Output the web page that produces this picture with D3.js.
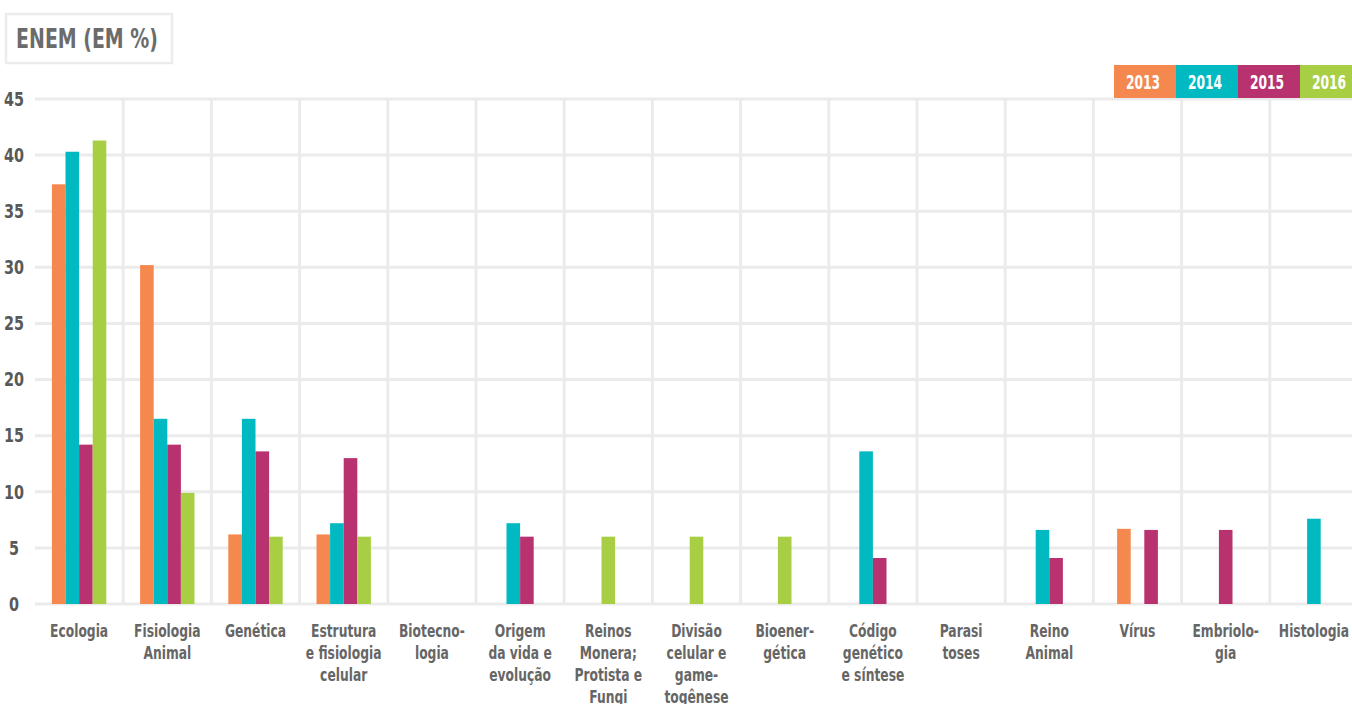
<!DOCTYPE html>
<html><head><meta charset="utf-8">
<script src="https://cdn.jsdelivr.net/npm/d3@7"></script>
<style>
html,body{margin:0;padding:0;background:#fff;}
svg{display:block;font-family:"DejaVu Sans Condensed","Roboto",sans-serif;font-weight:bold;}
</style></head>
<body>
<svg id="chart" width="1352" height="704"></svg>
<script>
const categories = [
  ["Ecologia"],
  ["Fisiologia","Animal"],
  ["Genética"],
  ["Estrutura","e fisiologia","celular"],
  ["Biotecno-","logia"],
  ["Origem","da vida e","evolução"],
  ["Reinos","Monera;","Protista e","Fungi"],
  ["Divisão","celular e","game-","togênese"],
  ["Bioener-","gética"],
  ["Código","genético","e síntese"],
  ["Parasi","toses"],
  ["Reino","Animal"],
  ["Vírus"],
  ["Embriolo-","gia"],
  ["Histologia"]
];
const years = ["2013","2014","2015","2016"];
const colors = ["#F5884F","#00B9C1","#B83270","#A8CF44"];
const s2013 = [37.4, 30.2, 6.2, 6.2, null, null, null, null, null, null, null, null, 6.7, null, null];
const s2014 = [40.3, 16.5, 16.5, 7.2, null, 7.2, null, null, null, 13.6, null, 6.6, 0, null, 7.6];
const s2015 = [14.2, 14.2, 13.6, 13.0, null, 6.0, null, null, null, 4.1, null, 4.1, 6.6, 6.6, null];
const s2016 = [41.3, 9.9, 6.0, 6.0, null, null, 6.0, 6.0, 6.0, null, null, null, null, null, null];
const series = [s2013, s2014, s2015, s2016];
const yTicks = [0,5,10,15,20,25,30,35,40,45];
const title = "ENEM (EM %)";

const svg = d3.select("#chart");
const W = 1352;
const catKeys = categories.map((c,i)=>i);
const x = d3.scaleBand().domain(catKeys).range([35, 35 + 15*88.2]).paddingInner(0).paddingOuter(0);
const y = d3.scaleLinear().domain([0,45]).range([604, 99]);
const barW = 13.6;
const grid = "#ebebeb";

// condensed text helper: centered at cx, horizontally squeezed
function ctext(parent, cx, cy, lines, size, fill, sx, lh, baseline) {
  const g = parent.append("g").attr("transform", `translate(${cx},${cy}) scale(${sx},1)`);
  const t = g.append("text").attr("text-anchor","middle").attr("font-size",size).attr("fill",fill);
  if (baseline) t.attr("dominant-baseline", baseline);
  lines.forEach((ln,j)=>{ t.append("tspan").attr("x",0).attr("y",j*(lh||0)).text(ln); });
  return g;
}

// title box
svg.append("rect").attr("x",6).attr("y",14).attr("width",166).attr("height",49)
  .attr("fill","#fff").attr("stroke","#ececec").attr("stroke-width",2.5);
ctext(svg, 87, 39, [title], 27, "#6b6b6b", 0.78, 0, "central");

// horizontal grid
svg.append("g").selectAll("line").data(yTicks).join("line")
  .attr("x1",35).attr("x2",W).attr("y1",d=>y(d)).attr("y2",d=>y(d))
  .attr("stroke",grid).attr("stroke-width",3);
// vertical grid
svg.append("g").selectAll("line").data(catKeys.slice(1)).join("line")
  .attr("x1",d=>x(d)).attr("x2",d=>x(d)).attr("y1",y(45)).attr("y2",y(0))
  .attr("stroke",grid).attr("stroke-width",3);

// y tick labels
const yl = svg.append("g");
yTicks.forEach(d=>ctext(yl, 14, y(d)-1, [String(d)], 20, "#595959", 0.8, 0, "central"));

// bars: present values packed and centered in the category
const barsG = svg.append("g");
catKeys.forEach(i=>{
  const present = [];
  series.forEach((s,k)=>{ if (s[i] !== null) present.push({k, v:s[i]}); });
  const cx = x(i) + x.bandwidth()/2;
  const start = cx - present.length*barW/2;
  barsG.selectAll(null).data(present).join("rect")
    .attr("x",(d,j)=>start + j*barW)
    .attr("width",barW)
    .attr("y",d=>y(d.v))
    .attr("height",d=>y(0)-y(d.v))
    .attr("fill",d=>colors[d.k]);
});

// x labels
const xl = svg.append("g");
catKeys.forEach(i=>{
  let cx = x(i)+x.bandwidth()/2;
  ctext(xl, cx, 637, categories[i], 18, "#666", 0.76, 22);
});

// legend
const lg = svg.append("g");
years.forEach((yr,k)=>{
  const lx = 1114 + k*62;
  lg.append("rect").attr("x",lx).attr("y",65).attr("width",62).attr("height",33).attr("fill",colors[k]);
  ctext(lg, lx+29, 82, [yr], 19, "#fff", 0.72, 0, "central");
});
</script>
</body></html>
